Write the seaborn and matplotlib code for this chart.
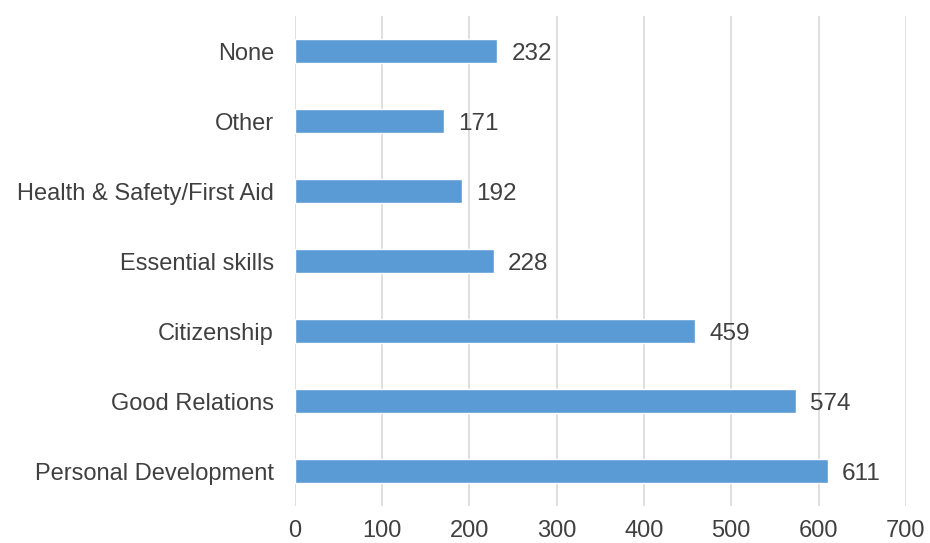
import matplotlib
matplotlib.use("Agg")
import matplotlib.pyplot as plt
import seaborn as sns
import pandas as pd

categories = ["None", "Other", "Health & Safety/First Aid", "Essential skills",
              "Citizenship", "Good Relations", "Personal Development"]
values = [232, 171, 192, 228, 459, 574, 611]
x_ticks = [0, 100, 200, 300, 400, 500, 600, 700]

df = pd.DataFrame({"category": categories, "count": values})

sns.set_theme(style="white")
plt.rcParams["font.family"] = ["Liberation Sans", "DejaVu Sans"]

fig = plt.figure(figsize=(9.3, 5.43), dpi=100)
ax = fig.add_axes([0.317, 0.068, 0.657, 0.9025])

sns.barplot(data=df, x="count", y="category", order=categories,
            color="#5B9BD5", saturation=1, width=0.35, ax=ax)

text_color = "#404040"
for i, v in enumerate(values):
    ax.text(v + 16, i, str(v), va="center_baseline", ha="left",
            fontsize=17.5, color=text_color)

ax.set_xlim(0, 700)
ax.set_ylim(6.5, -0.5)
ax.set_xticks(x_ticks)
ax.set_xticklabels([str(t) for t in x_ticks])
ax.xaxis.grid(True, color="#D9D9D9", linewidth=1.2)
ax.set_axisbelow(True)
for s in ax.spines.values():
    s.set_visible(False)
ax.set_xlabel("")
ax.set_ylabel("")
ax.tick_params(axis="both", length=0, labelsize=17, labelcolor=text_color)
ax.tick_params(axis="x", pad=10)
ax.tick_params(axis="y", pad=15)

fig.savefig("out.png", dpi=100)
